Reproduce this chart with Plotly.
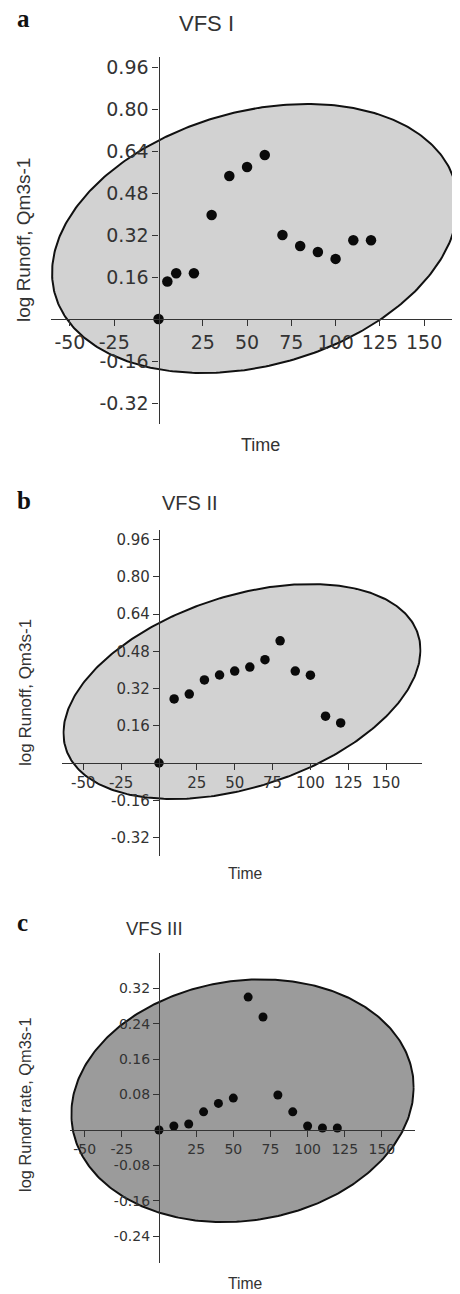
import numpy as np
import plotly.graph_objects as go

# ---------------- data ----------------
time_a = [0, 5, 10, 20, 30, 40, 50, 60, 70, 80, 90, 100, 110, 120]
runoff_a = [0.0, 0.143, 0.174, 0.174, 0.396, 0.545, 0.579, 0.625, 0.32, 0.278, 0.255, 0.229, 0.30, 0.30]

time_b = [0, 10, 20, 30, 40, 50, 60, 70, 80, 90, 100, 110, 120]
runoff_b = [0.0, 0.275, 0.296, 0.357, 0.378, 0.395, 0.412, 0.444, 0.525, 0.395, 0.377, 0.201, 0.172]

time_c = [0, 10, 20, 30, 40, 50, 60, 70, 80, 90, 100, 110, 120]
runoff_c = [0.0, 0.009, 0.0135, 0.041, 0.060, 0.072, 0.300, 0.255, 0.079, 0.041, 0.009, 0.0045, 0.0045]

# confidence ellipses: centre (time, runoff), half-width (time), half-height (runoff), correlation
ellipse_a = [54.5, 0.3067, 114.6, 0.5124, 0.256]
ellipse_b = [54.8, 0.307, 117.9, 0.4617, 0.386]
ellipse_c = [56.2, 0.066, 115.2, 0.274, 0.11]

x_ticks = [-50, -25, 25, 50, 75, 100, 125, 150]
y_ticks_ab = [-0.32, -0.16, 0.16, 0.32, 0.48, 0.64, 0.80, 0.96]
y_ticks_c = [-0.24, -0.16, -0.08, 0.08, 0.16, 0.24, 0.32]

titles = ["VFS I", "VFS II", "VFS III"]
letters = ["a", "b", "c"]
y_titles = ["log Runoff, Qm3s-1", "log Runoff, Qm3s-1", "log Runoff rate, Qm3s-1"]
x_title = "Time"

# ---------------- geometry (pixels) ----------------
PAGE_W, PAGE_H = 460, 1294
OFF = 8  # default page body margin
W, H = PAGE_W - OFF, PAGE_H - OFF
TXT = "#333333"


def px_x(x):
    return (x - OFF) / W


def px_y(y):
    return 1 - (y - OFF) / H


panels = [
    dict(t=time_a, v=runoff_a, ell=ellipse_a, x0=158.5, xs=1.771, y0=319, ys=262.5,
         yr=[-0.40, 1.0], yt=y_ticks_ab, fill="#d2d2d2", tf=19, ms=10.5),
    dict(t=time_b, v=runoff_b, ell=ellipse_b, x0=159, xs=1.514, y0=763, ys=232.8,
         yr=[-0.40, 1.0], yt=y_ticks_ab, fill="#d2d2d2", tf=15, ms=9.5),
    dict(t=time_c, v=runoff_c, ell=ellipse_c, x0=159, xs=1.486, y0=1130, ys=443.0,
         yr=[-0.30, 0.40], yt=y_ticks_c, fill="#9b9b9b", tf=14, ms=9),
]

fig = go.Figure()
layout = {}

for i, p in enumerate(panels):
    sfx = "" if i == 0 else str(i + 1)
    cx, cy, hw, hh, rho = p["ell"]
    th = np.linspace(0, 2 * np.pi, 361)
    ex = cx + hw * np.cos(th)
    ey = cy + hh * (rho * np.cos(th) + np.sqrt(1 - rho ** 2) * np.sin(th))

    xr = [cx - hw * 1.006, cx + hw * 1.006]
    yr = p["yr"]
    xd = [px_x(p["x0"] + xr[0] * p["xs"]), px_x(p["x0"] + xr[1] * p["xs"])]
    yd = [px_y(p["y0"] - yr[0] * p["ys"]), px_y(p["y0"] - yr[1] * p["ys"])]
    if xd[1] > 1:
        xr[1] = xr[0] + (xr[1] - xr[0]) * (1 - xd[0]) / (xd[1] - xd[0])
        xd[1] = 1

    fig.add_trace(go.Scatter(x=ex, y=ey, mode="lines", fill="toself",
                             fillcolor=p["fill"], line=dict(color="#111111", width=2),
                             xaxis="x" + sfx, yaxis="y" + sfx, hoverinfo="skip"))
    fig.add_trace(go.Scatter(x=p["t"], y=p["v"], mode="markers",
                             marker=dict(color="#0a0a0a", size=p["ms"]),
                             xaxis="x" + sfx, yaxis="y" + sfx, cliponaxis=False))

    pos_y0 = yd[0] + (0 - yr[0]) / (yr[1] - yr[0]) * (yd[1] - yd[0])
    pos_x0 = xd[0] + (0 - xr[0]) / (xr[1] - xr[0]) * (xd[1] - xd[0])

    tickfont = dict(family="DejaVu Sans", size=p["tf"], color=TXT)
    layout["xaxis" + sfx] = dict(
        domain=xd, range=xr, anchor="free", position=pos_y0,
        showline=True, linecolor="#333333", linewidth=1.2,
        ticks="outside", ticklen=6, tickwidth=1, tickcolor="#333333",
        tickvals=x_ticks, ticktext=[str(v) for v in x_ticks],
        tickfont=tickfont, showgrid=False, zeroline=False, fixedrange=True)
    layout["yaxis" + sfx] = dict(
        domain=yd, range=yr, anchor="free", position=pos_x0, side="left",
        showline=True, linecolor="#333333", linewidth=1.2,
        ticks="outside", ticklen=6, tickwidth=1, tickcolor="#333333",
        tickvals=p["yt"], ticktext=[f"{v:.2f}" for v in p["yt"]],
        tickfont=tickfont, showgrid=False, zeroline=False, fixedrange=True)

annotations = []
for txt, (x, y, s) in zip(titles, [(206, 24, 22), (190, 503, 20), (154, 928, 18.5)]):
    annotations.append(dict(text=txt, x=px_x(x), y=px_y(y), xref="paper", yref="paper",
                            showarrow=False, xanchor="center", yanchor="middle",
                            font=dict(family="Liberation Sans", size=s, color=TXT)))
for txt, (x, y) in zip(letters, [(16, 18), (16, 500), (16, 922)]):
    annotations.append(dict(text="<b>" + txt + "</b>", x=px_x(x), y=px_y(y), xref="paper",
                            yref="paper", showarrow=False, xanchor="left", yanchor="middle",
                            borderpad=0,
                            font=dict(family="Liberation Serif", size=25, color="#111111")))
for txt, (x, y, s) in zip(y_titles, [(24, 240, 19), (25, 693, 17), (25, 1105, 16.4)]):
    annotations.append(dict(text=txt, x=px_x(x), y=px_y(y), xref="paper", yref="paper",
                            showarrow=False, xanchor="center", yanchor="middle", textangle=-90,
                            font=dict(family="Liberation Sans", size=s, color=TXT)))
for (x, y, s) in [(260, 445, 18), (245, 873, 15.7), (245, 1283, 15.7)]:
    annotations.append(dict(text=x_title, x=px_x(x), y=px_y(y), xref="paper", yref="paper",
                            showarrow=False, xanchor="center", yanchor="middle",
                            font=dict(family="Liberation Sans", size=s, color=TXT)))

fig.update_layout(
    width=W, height=H, margin=dict(l=0, r=0, t=0, b=0),
    paper_bgcolor="white", plot_bgcolor="white", showlegend=False,
    annotations=annotations, **layout)

fig.write_html("out.html")
